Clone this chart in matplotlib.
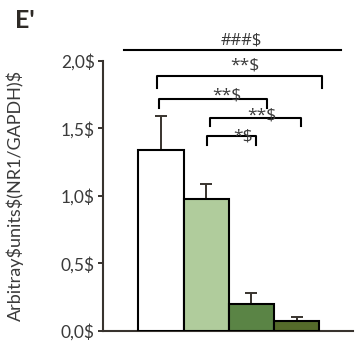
import matplotlib
matplotlib.use("Agg")
import matplotlib.pyplot as plt

plt.rcParams['font.family'] = ['Lato', 'DejaVu Sans']
plt.rcParams['text.parse_math'] = False

groups = ["G1", "G2", "G3", "G4"]
values = [1.34, 0.975, 0.198, 0.07]
errors = [0.25, 0.11, 0.08, 0.03]
colors = ["#ffffff", "#b0cc9c", "#5a8445", "#556b2a"]
yticks = [0.0, 0.5, 1.0, 1.5, 2.0]
ytick_labels = ["0,0$", "0,5$", "1,0$", "1,5$", "2,0$"]
ylabel = "Arbitray$units$(NR1/GAPDH)$"
panel = "E'"

# significance brackets: (x1, x2, top, leg_bottom, label, text_x, text_y)
brackets = [
    (-0.087, 3.56, 1.889, 1.80, "**$", 1.86, 1.968),
    (-0.043, 2.34, 1.716, 1.65, "**$", 1.45, 1.746),
    (1.085, 3.09, 1.58, 1.516, "**$", 2.227, 1.598),
    (1.025, 2.10, 1.442, 1.375, "*$", 1.81, 1.44),
]
top_line = (-0.816, 3.98, 2.079, "###$", 1.785, 2.15)

dark = "#38332e"
txt = "#3a3a3a"

fig = plt.figure(figsize=(3.58, 3.45), dpi=100)
ax = fig.add_axes([103/358, 14.3/345, 250/358, 269.7/345])

x = list(range(len(groups)))
ax.bar(x, values, width=1.0, color=colors, edgecolor="black", linewidth=1.5, zorder=3)
ax.errorbar(x, values, yerr=[[0]*len(errors), errors], fmt="none",
            ecolor=dark, elinewidth=1.4, capsize=4.3, capthick=1.4, zorder=2)

ax.set_xlim(-1.28, 4.245)
ax.set_ylim(0, 2.0)
ax.set_yticks(yticks)
ax.set_yticklabels(ytick_labels, fontsize=12.5, color=txt)
ax.set_xticks([])
ax.tick_params(axis="y", direction="out", length=3.8, width=1.4, color=dark, pad=2)
for s in ["top", "right"]:
    ax.spines[s].set_visible(False)
for s in ["left", "bottom"]:
    ax.spines[s].set_color(dark)
    ax.spines[s].set_linewidth(1.5)

ax.set_ylabel(ylabel, fontsize=13, color=txt)
ax.yaxis.set_label_coords(-0.316, 0.503)

ann_font = ['Open Sans', 'DejaVu Sans']
for x1, x2, top, bot, lab, tx, ty in brackets:
    ax.plot([x1, x1, x2, x2], [bot, top, top, bot], color="black", lw=1.5,
            clip_on=False, zorder=4)
    ax.text(tx, ty, lab, ha="center", va="center", fontsize=12.5, color=txt,
            family=ann_font, zorder=5)

lx1, lx2, ly, llab, ltx, lty = top_line
ax.plot([lx1, lx2], [ly, ly], color="black", lw=1.5, clip_on=False)
ax.text(ltx, lty, llab, ha="center", va="center", fontsize=12, color=txt,
        family=ann_font)

fig.text(15/358, 1 - 9/345, panel, fontsize=18, fontweight="bold", color="#2e2a26",
         ha="left", va="top")

fig.savefig("out.png", dpi=100)
